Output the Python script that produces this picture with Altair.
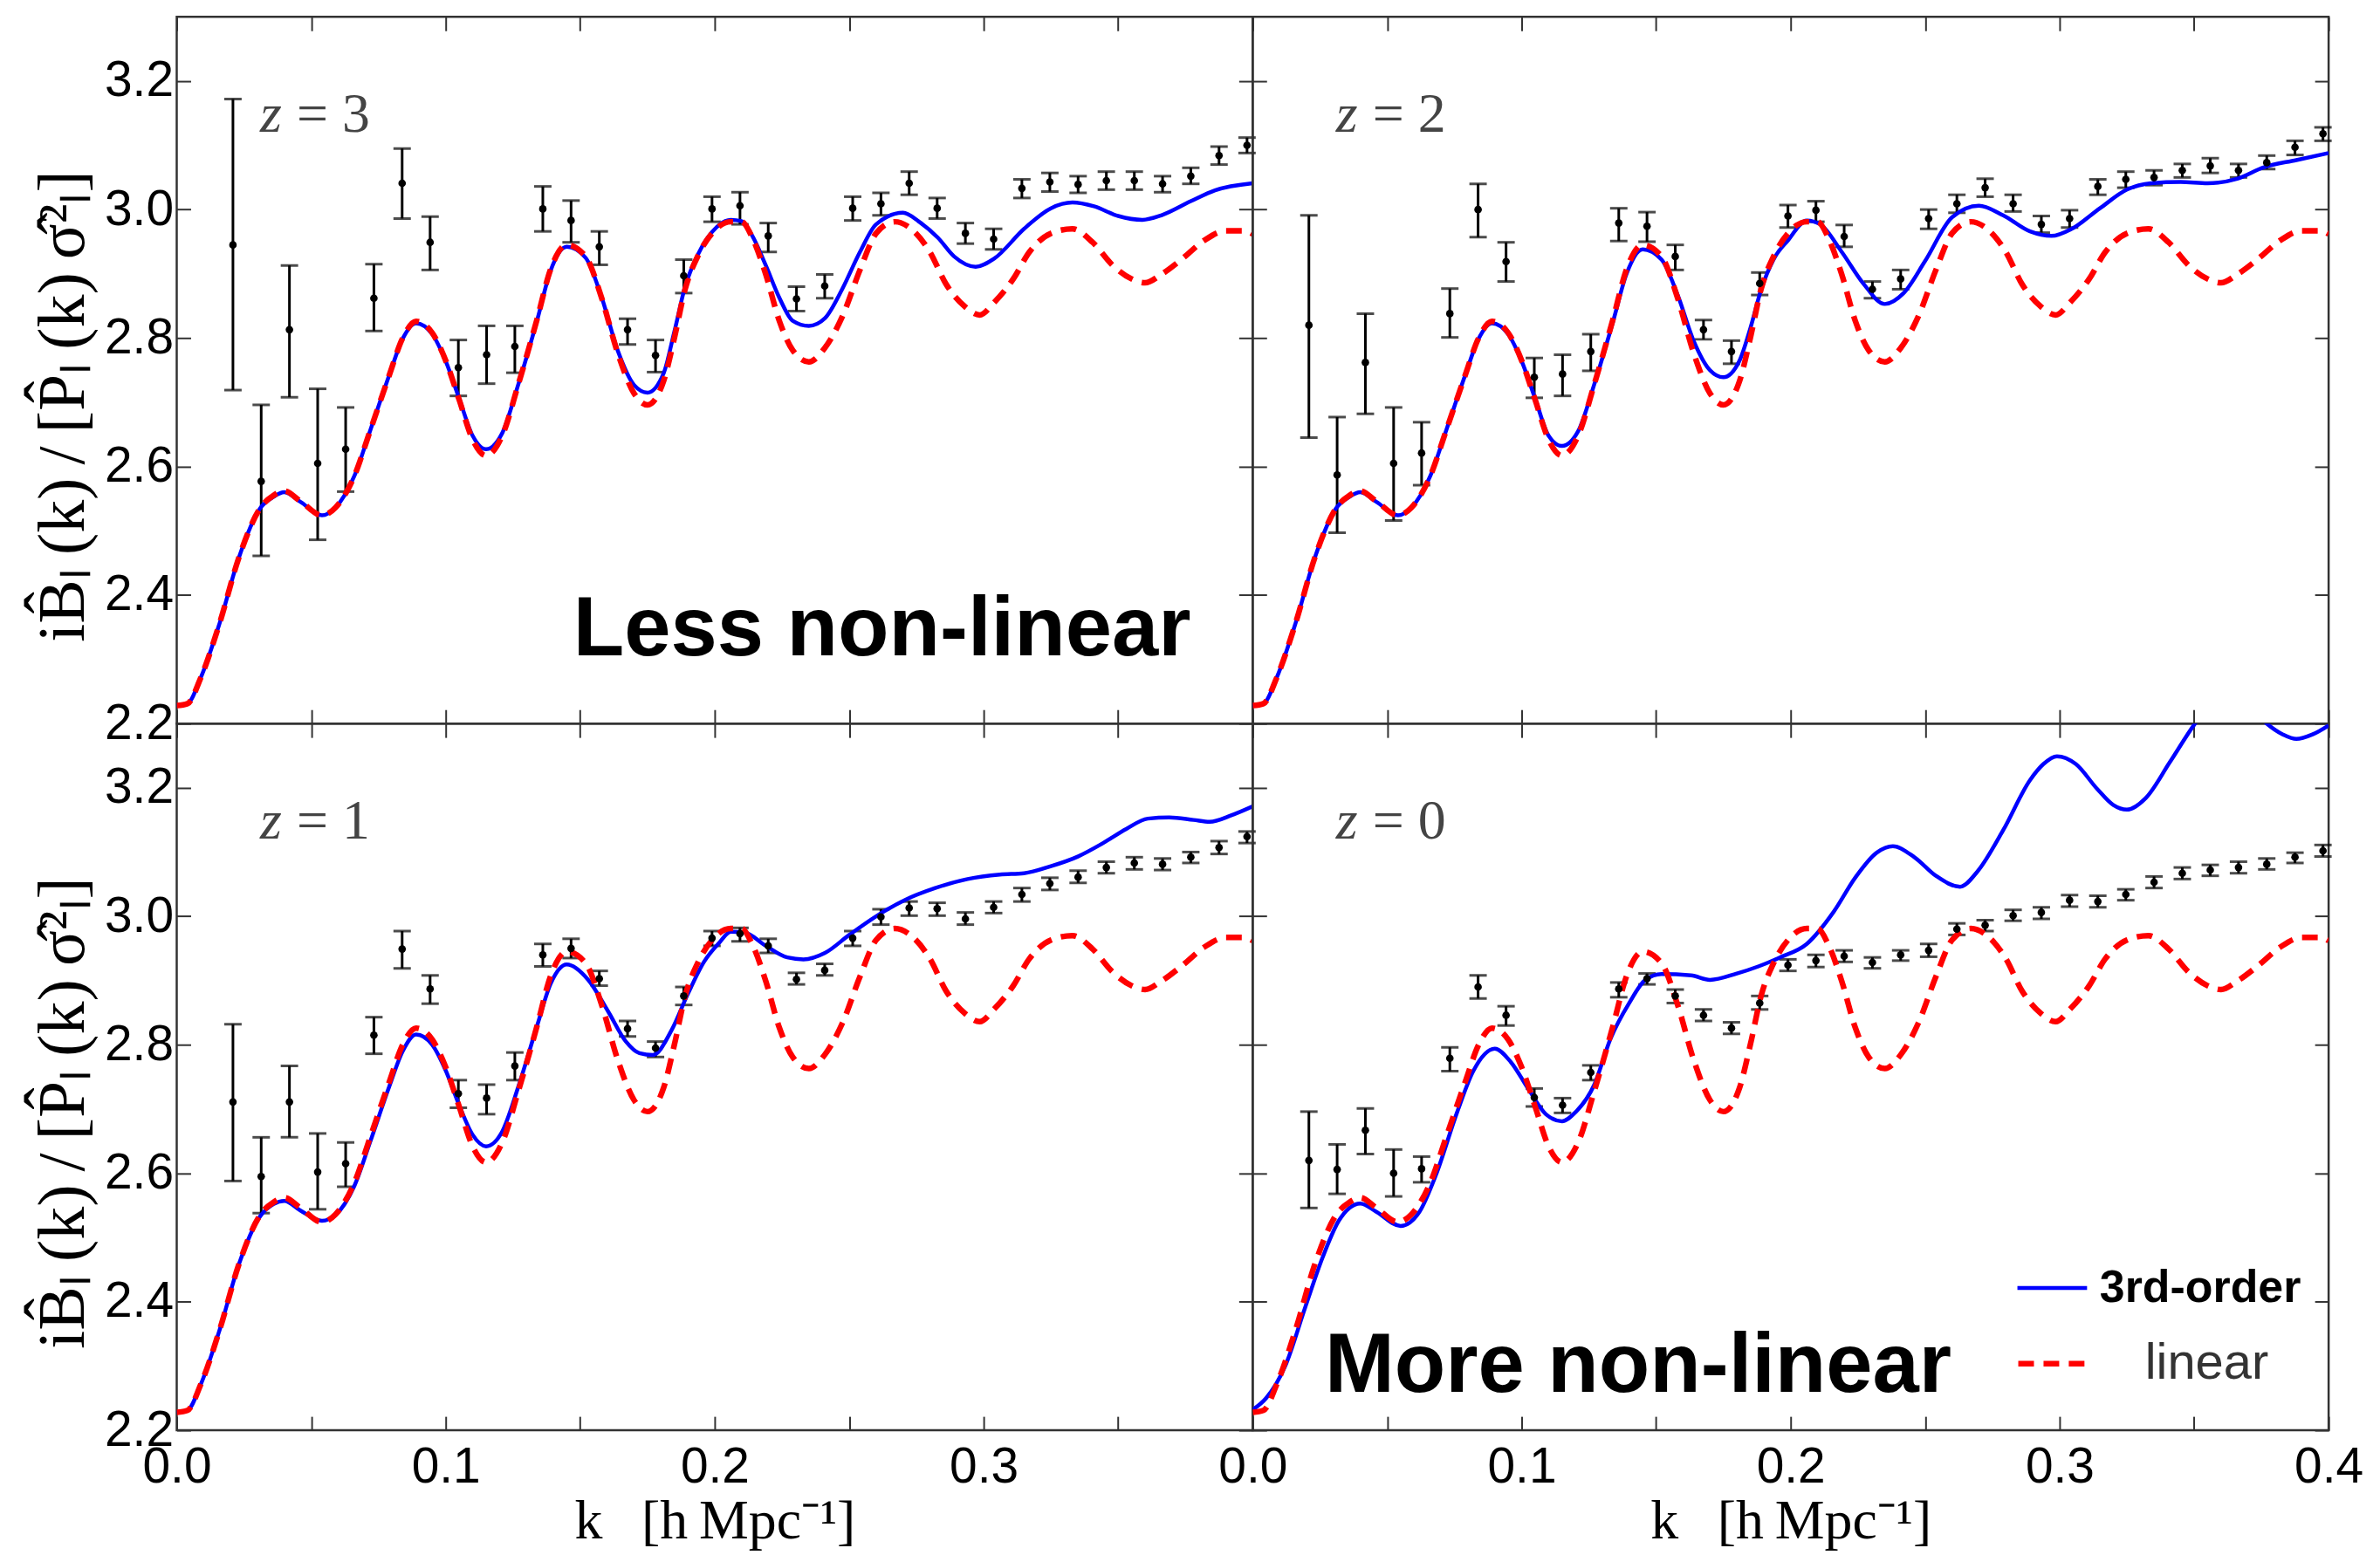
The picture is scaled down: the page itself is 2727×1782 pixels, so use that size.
import altair as alt
import pandas as pd

# ---------------- data ----------------
K_BINS = [0.0209, 0.0314, 0.0419, 0.0524, 0.0628, 0.0733, 0.0838, 0.0942, 0.1047, 0.1152,
          0.1257, 0.1361, 0.1466, 0.1571, 0.1676, 0.1780, 0.1885, 0.1990, 0.2094, 0.2199,
          0.2304, 0.2409, 0.2513, 0.2618, 0.2723, 0.2827, 0.2932, 0.3037, 0.3142, 0.3246,
          0.3351, 0.3456, 0.3560, 0.3665, 0.3770, 0.3875, 0.3979]

Z3_VAL = [2.945, 2.577, 2.813, 2.605, 2.627, 2.862, 3.041, 2.949, 2.754, 2.774, 2.787, 3.001, 2.983,
          2.942, 2.813, 2.773, 2.897, 3.001, 3.006, 2.959, 2.861, 2.881, 3.002, 3.009, 3.041, 3.002,
          2.963, 2.954, 3.033, 3.043, 3.039, 3.045, 3.045, 3.040, 3.052, 3.084, 3.100]
Z3_LO = [2.719, 2.461, 2.708, 2.486, 2.561, 2.811, 2.986, 2.906, 2.710, 2.729, 2.746, 2.966, 2.949,
         2.914, 2.790, 2.747, 2.870, 2.981, 2.977, 2.934, 2.842, 2.862, 2.983, 2.991, 3.023, 2.986,
         2.947, 2.938, 3.018, 3.028, 3.026, 3.031, 3.031, 3.027, 3.040, 3.070, 3.088]
Z3_HI = [3.172, 2.696, 2.913, 2.721, 2.692, 2.915, 3.095, 2.989, 2.797, 2.819, 2.819, 3.036, 3.014,
         2.966, 2.830, 2.797, 2.922, 3.020, 3.027, 2.979, 2.880, 2.899, 3.020, 3.026, 3.059, 3.018,
         2.979, 2.970, 3.047, 3.057, 3.052, 3.059, 3.059, 3.052, 3.065, 3.098, 3.112]

Z2_VAL = [2.820, 2.587, 2.762, 2.605, 2.621, 2.838, 3.000, 2.919, 2.739, 2.744, 2.779, 2.979, 2.974,
          2.927, 2.813, 2.779, 2.885, 2.990, 2.999, 2.958, 2.876, 2.892, 2.986, 3.009, 3.034, 3.009,
          2.977, 2.986, 3.036, 3.047, 3.050, 3.061, 3.068, 3.061, 3.073, 3.097, 3.118]
Z2_LO = [2.645, 2.497, 2.682, 2.516, 2.571, 2.801, 2.957, 2.888, 2.707, 2.710, 2.749, 2.951, 2.950,
         2.906, 2.798, 2.760, 2.867, 2.972, 2.981, 2.942, 2.862, 2.876, 2.970, 2.995, 3.020, 2.997,
         2.964, 2.972, 3.023, 3.034, 3.038, 3.050, 3.057, 3.050, 3.063, 3.085, 3.107]
Z2_HI = [2.991, 2.677, 2.838, 2.692, 2.669, 2.877, 3.040, 2.949, 2.769, 2.774, 2.806, 3.002, 2.996,
         2.945, 2.828, 2.796, 2.902, 3.007, 3.013, 2.976, 2.888, 2.906, 3.000, 3.023, 3.048, 3.023,
         2.990, 2.999, 3.047, 3.059, 3.061, 3.071, 3.080, 3.071, 3.084, 3.107, 3.128]

Z1_VAL = [2.711, 2.595, 2.711, 2.602, 2.615, 2.815, 2.949, 2.887, 2.724, 2.717, 2.767, 2.940, 2.950,
          2.903, 2.825, 2.795, 2.876, 2.966, 2.973, 2.954, 2.902, 2.916, 2.966, 2.999, 3.013, 3.012,
          2.996, 3.014, 3.034, 3.051, 3.061, 3.076, 3.083, 3.081, 3.092, 3.107, 3.124]
Z1_LO = [2.588, 2.538, 2.656, 2.544, 2.579, 2.786, 2.919, 2.864, 2.702, 2.692, 2.745, 2.922, 2.935,
         2.892, 2.813, 2.781, 2.862, 2.954, 2.961, 2.943, 2.894, 2.908, 2.954, 2.987, 3.001, 3.001,
         2.987, 3.005, 3.023, 3.041, 3.052, 3.067, 3.073, 3.072, 3.083, 3.097, 3.114]
Z1_HI = [2.832, 2.656, 2.767, 2.662, 2.648, 2.843, 2.977, 2.908, 2.745, 2.738, 2.788, 2.957, 2.965,
         2.915, 2.837, 2.805, 2.890, 2.977, 2.982, 2.965, 2.912, 2.926, 2.977, 3.011, 3.023, 3.021,
         3.006, 3.023, 3.044, 3.060, 3.071, 3.085, 3.092, 3.090, 3.100, 3.117, 3.132]

Z0_VAL = [2.620, 2.606, 2.667, 2.600, 2.607, 2.779, 2.890, 2.846, 2.718, 2.706, 2.757, 2.887, 2.903,
          2.876, 2.846, 2.826, 2.865, 2.924, 2.931, 2.938, 2.928, 2.940, 2.947, 2.980, 2.986, 3.001,
          3.006, 3.025, 3.023, 3.034, 3.053, 3.067, 3.072, 3.076, 3.081, 3.092, 3.102]
Z0_LO = [2.546, 2.568, 2.630, 2.564, 2.586, 2.759, 2.872, 2.830, 2.704, 2.694, 2.745, 2.874, 2.894,
         2.865, 2.837, 2.817, 2.855, 2.915, 2.921, 2.929, 2.919, 2.931, 2.937, 2.971, 2.977, 2.993,
         2.996, 3.015, 3.014, 3.025, 3.044, 3.058, 3.063, 3.067, 3.073, 3.083, 3.093]
Z0_HI = [2.696, 2.645, 2.701, 2.637, 2.626, 2.796, 2.908, 2.860, 2.732, 2.717, 2.768, 2.897, 2.911,
         2.886, 2.855, 2.835, 2.876, 2.933, 2.940, 2.947, 2.936, 2.947, 2.957, 2.989, 2.994, 3.010,
         3.014, 3.033, 3.032, 3.042, 3.062, 3.076, 3.080, 3.085, 3.090, 3.099, 3.111]

# linear theory (same in every panel)
LIN_K = [0.000, 0.004, 0.009, 0.016, 0.023, 0.031, 0.036, 0.040, 0.046, 0.054, 0.059, 0.066, 0.072,
         0.079, 0.084, 0.089, 0.095, 0.100, 0.105, 0.110, 0.115, 0.121, 0.127, 0.134, 0.139, 0.145,
         0.152, 0.158, 0.164, 0.170, 0.175, 0.181, 0.185, 0.189, 0.194, 0.199, 0.206, 0.210, 0.214,
         0.219, 0.224, 0.229, 0.235, 0.241, 0.2475, 0.254, 0.260, 0.267, 0.273, 0.280, 0.286, 0.293,
         0.2985, 0.304, 0.311, 0.317, 0.325, 0.333, 0.3405, 0.348, 0.355, 0.360, 0.366, 0.374, 0.382,
         0.390, 0.397, 0.400]
LIN_V = [2.228, 2.231, 2.272, 2.357, 2.457, 2.535, 2.555, 2.562, 2.546, 2.524, 2.536, 2.585, 2.657,
         2.742, 2.800, 2.826, 2.808, 2.765, 2.704, 2.642, 2.617, 2.648, 2.728, 2.830, 2.907, 2.945,
         2.927, 2.862, 2.776, 2.714, 2.696, 2.733, 2.800, 2.876, 2.930, 2.963, 2.981, 2.981, 2.956,
         2.899, 2.827, 2.781, 2.763, 2.785, 2.834, 2.906, 2.963, 2.981, 2.970, 2.934, 2.884, 2.849,
         2.836, 2.856, 2.892, 2.934, 2.963, 2.970, 2.949, 2.913, 2.892, 2.886, 2.899, 2.924, 2.952,
         2.967, 2.967, 2.962]

# 3rd-order theory, one curve per redshift
Z3_TK = [0.000, 0.004, 0.009, 0.016, 0.023, 0.031, 0.036, 0.040, 0.046, 0.054, 0.059, 0.066, 0.072,
         0.079, 0.084, 0.089, 0.095, 0.100, 0.105, 0.110, 0.115, 0.121, 0.127, 0.134, 0.139, 0.145,
         0.152, 0.158, 0.164, 0.170, 0.175, 0.181, 0.185, 0.189, 0.194, 0.199, 0.206, 0.210, 0.214,
         0.219, 0.224, 0.229, 0.235, 0.241, 0.2475, 0.254, 0.260, 0.270, 0.276, 0.283, 0.289, 0.297,
         0.304, 0.315, 0.325, 0.333, 0.341, 0.350, 0.359, 0.366, 0.377, 0.386, 0.400]
Z3_TV = [2.228, 2.231, 2.272, 2.357, 2.457, 2.535, 2.553, 2.560, 2.545, 2.524, 2.536, 2.585, 2.657,
         2.742, 2.799, 2.823, 2.806, 2.764, 2.706, 2.648, 2.627, 2.652, 2.728, 2.828, 2.905, 2.942,
         2.925, 2.863, 2.780, 2.727, 2.715, 2.745, 2.810, 2.880, 2.932, 2.965, 2.984, 2.982, 2.959,
         2.913, 2.863, 2.827, 2.819, 2.831, 2.877, 2.934, 2.977, 2.995, 2.981, 2.956, 2.927, 2.911,
         2.924, 2.970, 3.002, 3.011, 3.005, 2.990, 2.984, 2.991, 3.013, 3.030, 3.041]

Z2_TK = [0.000, 0.004, 0.009, 0.016, 0.023, 0.031, 0.036, 0.040, 0.046, 0.054, 0.059, 0.066, 0.072,
         0.079, 0.084, 0.089, 0.095, 0.100, 0.105, 0.110, 0.115, 0.121, 0.127, 0.134, 0.139, 0.145,
         0.152, 0.158, 0.164, 0.170, 0.175, 0.181, 0.185, 0.189, 0.194, 0.199, 0.206, 0.211, 0.219,
         0.227, 0.235, 0.242, 0.250, 0.260, 0.270, 0.279, 0.289, 0.297, 0.3045, 0.315, 0.325, 0.334,
         0.345, 0.355, 0.366, 0.376, 0.388, 0.400]
Z2_TV = [2.228, 2.231, 2.272, 2.357, 2.457, 2.535, 2.553, 2.560, 2.545, 2.524, 2.536, 2.585, 2.657,
         2.742, 2.799, 2.823, 2.806, 2.764, 2.706, 2.648, 2.632, 2.655, 2.728, 2.826, 2.900, 2.938,
         2.922, 2.867, 2.795, 2.750, 2.739, 2.765, 2.815, 2.875, 2.925, 2.952, 2.983, 2.977, 2.934,
         2.885, 2.853, 2.870, 2.920, 2.988, 3.006, 2.991, 2.966, 2.959, 2.970, 3.002, 3.031, 3.041,
         3.043, 3.041, 3.048, 3.066, 3.077, 3.088]

Z1_TK = [0.000, 0.004, 0.009, 0.016, 0.023, 0.031, 0.036, 0.040, 0.046, 0.054, 0.059, 0.066, 0.072,
         0.079, 0.084, 0.089, 0.095, 0.100, 0.105, 0.110, 0.115, 0.121, 0.127, 0.134, 0.139, 0.145,
         0.153, 0.1605, 0.167, 0.172, 0.177, 0.184, 0.190, 0.196, 0.2015, 0.206, 0.211, 0.219, 0.227,
         0.233, 0.241, 0.250, 0.260, 0.271, 0.282, 0.294, 0.306, 0.315, 0.325, 0.335, 0.344, 0.353,
         0.361, 0.369, 0.378, 0.384, 0.392, 0.400]
Z1_TV = [2.228, 2.231, 2.272, 2.357, 2.457, 2.533, 2.552, 2.557, 2.542, 2.526, 2.535, 2.580, 2.650,
         2.735, 2.790, 2.816, 2.800, 2.760, 2.706, 2.660, 2.642, 2.665, 2.735, 2.830, 2.895, 2.925,
         2.901, 2.851, 2.805, 2.787, 2.784, 2.823, 2.879, 2.929, 2.958, 2.976, 2.975, 2.954, 2.936,
         2.933, 2.943, 2.971, 3.000, 3.026, 3.044, 3.058, 3.065, 3.067, 3.078, 3.093, 3.113, 3.136,
         3.152, 3.154, 3.150, 3.147, 3.157, 3.171]

Z0_TK = [0.000, 0.005, 0.012, 0.0195, 0.026, 0.032, 0.040, 0.046, 0.055, 0.062, 0.068, 0.076, 0.082,
         0.090, 0.096, 0.1025, 0.109, 0.115, 0.120, 0.127, 0.133, 0.140, 0.146, 0.152, 0.163, 0.170,
         0.180, 0.188, 0.196, 0.206, 0.216, 0.224, 0.232, 0.238, 0.246, 0.254, 0.263, 0.2695, 0.279,
         0.289, 0.294, 0.299, 0.306, 0.314, 0.320, 0.325, 0.332, 0.341, 0.350, 0.356, 0.363, 0.370,
         0.377, 0.383, 0.388, 0.394, 0.400]
Z0_TV = [2.232, 2.250, 2.299, 2.391, 2.469, 2.526, 2.553, 2.540, 2.518, 2.540, 2.596, 2.695, 2.759,
         2.794, 2.773, 2.731, 2.692, 2.681, 2.695, 2.738, 2.809, 2.865, 2.901, 2.910, 2.908, 2.901,
         2.911, 2.922, 2.936, 2.957, 3.007, 3.060, 3.099, 3.109, 3.092, 3.063, 3.046, 3.070, 3.134,
         3.212, 3.237, 3.249, 3.237, 3.198, 3.173, 3.166, 3.184, 3.240, 3.298, 3.330, 3.350, 3.330,
         3.300, 3.283, 3.276, 3.283, 3.297]

PANEL_Z = ["3", "2", "1", "0"]
NOTE_TEXT = ["Less non-linear", "More non-linear"]
MODEL_NAMES = ["3rd-order", "linear"]

X_TICKS = [0.0, 0.05, 0.1, 0.15, 0.2, 0.25, 0.3, 0.35, 0.4]
Y_TICKS = [2.2, 2.4, 2.6, 2.8, 3.0, 3.2]

# ---------------- styling ----------------
W, H = 1236, 812
TICK = 16
SANS = "Liberation Sans"
SERIF = "Liberation Serif"
Y_TITLE = ("iB\u0302\u2097\u2009(k)\u2009/\u2009[P\u0302\u2097\u2009(k)\u2009\u03c3\u0302\u00b2\u2097]")
X_TITLE = "k\u2002\u2009[h\u2009Mpc\u207b\u00b9]"

XS = alt.Scale(domain=[0.0, 0.4], nice=False, zero=False)
YS = alt.Scale(domain=[2.2, 3.3], nice=False, zero=False)

LBL_ALL = "abs(datum.value*10 - round(datum.value*10)) < 0.001 ? format(datum.value, '.1f') : ''"
LBL_NO_LAST = ("abs(datum.value*10 - round(datum.value*10)) < 0.001 && datum.value < 0.39 "
               "? format(datum.value, '.1f') : ''")


def common_axis(**kw):
    base = dict(offset=-TICK, tickSize=TICK, tickWidth=2, tickColor="#333333", domain=False,
                grid=False, labelFlush=False, labelOverlap=False, labelFont=SANS,
                labelFontSize=57, labelColor="black", titleFont=SERIF, titleFontSize=64,
                titleFontWeight="normal", titleColor="black")
    base.update(kw)
    return alt.Axis(**base)


def panel(idx, val, lo, hi, tk, tv, show_x, show_y, last_x_label, note=None, legend=False):
    pts = pd.DataFrame({"k": K_BINS, "v": val, "lo": lo, "hi": hi})
    caps = pd.concat([pd.DataFrame({"k": K_BINS, "c": lo}), pd.DataFrame({"k": K_BINS, "c": hi})])
    lin = pd.DataFrame({"k": LIN_K, "v": LIN_V, "model": MODEL_NAMES[1]})
    third = pd.DataFrame({"k": tk, "v": tv, "model": MODEL_NAMES[0]})

    if show_x:
        xax = common_axis(orient="bottom", values=X_TICKS, labelExpr=LBL_ALL if last_x_label else LBL_NO_LAST,
                          labelPadding=15, title=X_TITLE, titlePadding=2)
    else:
        xax = common_axis(orient="bottom", values=X_TICKS, labels=False, title=None)
    if show_y:
        yax = common_axis(orient="left", values=Y_TICKS, format=".1f", labelPadding=4,
                          title=Y_TITLE, titlePadding=8, titleFontSize=76, titleY=447)
    else:
        yax = common_axis(orient="left", values=Y_TICKS, labels=False, title=None)

    xn = lambda f: alt.X(f, scale=XS, axis=None)
    yn = lambda f: alt.Y(f, scale=YS, axis=None)

    bars = alt.Chart(pts).mark_rule(color="black", strokeWidth=3).encode(
        x=alt.X("k:Q", scale=XS, axis=xax), y=alt.Y("lo:Q", scale=YS, axis=yax), y2="hi:Q")
    cap = alt.Chart(caps).mark_tick(color="black", thickness=3, size=20, orient="horizontal").encode(
        x=xn("k:Q"), y=yn("c:Q"))
    dots = alt.Chart(pts).mark_circle(color="black", size=75, opacity=1).encode(x=xn("k:Q"), y=yn("v:Q"))

    if legend:
        blue_enc = dict(color=alt.Color("model:N", scale=alt.Scale(domain=[MODEL_NAMES[0]], range=["#0000ff"]),
                                        legend=alt.Legend(title=None, orient="none", legendX=2112, legendY=1418,
                                                          labelFont=SANS, labelFontSize=52, labelFontWeight="bold",
                                                          labelColor="black", labelLimit=600, symbolType="stroke",
                                                          symbolSize=6400, symbolStrokeWidth=4.5, labelOffset=12,
                                                          padding=0)))
        red_enc = dict(strokeDash=alt.StrokeDash("model:N", scale=alt.Scale(domain=[MODEL_NAMES[1]], range=[[18, 11]]),
                                                 legend=alt.Legend(title=None, orient="none", legendX=2112, legendY=1504,
                                                                   labelFont=SANS, labelFontSize=58,
                                                                   labelFontWeight="normal", labelColor="#333333",
                                                                   labelLimit=600, symbolType="stroke",
                                                                   symbolSize=6400, symbolStrokeWidth=6.5,
                                                                   symbolStrokeColor="#ff0000", labelOffset=62,
                                                                   padding=0)))
        blue = alt.Chart(third).mark_line(strokeWidth=4.5, interpolate="monotone", clip=True).encode(
            x=xn("k:Q"), y=yn("v:Q"), **blue_enc)
        red = alt.Chart(lin).mark_line(color="#ff0000", strokeWidth=6.5, interpolate="monotone", clip=True).encode(
            x=xn("k:Q"), y=yn("v:Q"), **red_enc)
    else:
        blue = alt.Chart(third).mark_line(color="#0000ff", strokeWidth=4.5, interpolate="monotone", clip=True).encode(
            x=xn("k:Q"), y=yn("v:Q"))
        red = alt.Chart(lin).mark_line(color="#ff0000", strokeWidth=6.5, strokeDash=[18, 11], interpolate="monotone",
                                       clip=True).encode(x=xn("k:Q"), y=yn("v:Q"))

    lab_df = pd.DataFrame({"k": [0.031], "v": [3.121], "z": ["z"], "rest": ["=\u2005" + PANEL_Z[idx]]})
    zsym = alt.Chart(lab_df).mark_text(align="left", baseline="alphabetic", font=SERIF, fontSize=64,
                                       fontStyle="italic", color="#444444").encode(
        x=xn("k:Q"), y=yn("v:Q"), text="z:N")
    zrest = alt.Chart(lab_df).mark_text(align="left", baseline="alphabetic", font=SERIF, fontSize=64,
                                        dx=42, color="#444444").encode(
        x=xn("k:Q"), y=yn("v:Q"), text="rest:N")

    layers = [bars, cap, blue, red, dots, zsym, zrest]
    if note is not None:
        nk, nv, nalign, ntext = note
        layers.append(alt.Chart(pd.DataFrame({"k": [nk], "v": [nv], "t": [ntext]})).mark_text(
            align=nalign, baseline="alphabetic", font=SANS, fontSize=96, fontWeight="bold", color="black").encode(
            x=xn("k:Q"), y=yn("v:Q"), text="t:N"))

    frame = alt.Chart(pts).mark_point(opacity=0).encode(
        x=alt.X("k:Q", scale=XS, axis=common_axis(orient="top", values=X_TICKS, labels=False, title=None)),
        y=alt.Y("v:Q", scale=YS, axis=common_axis(orient="right", values=Y_TICKS, labels=False, title=None)))
    layers.append(frame)

    return alt.layer(*layers).resolve_axis(x="independent", y="independent").properties(width=W, height=H)


p3 = panel(0, Z3_VAL, Z3_LO, Z3_HI, Z3_TK, Z3_TV, False, True, False, note=(0.377, 2.306, "right", NOTE_TEXT[0]))
p2 = panel(1, Z2_VAL, Z2_LO, Z2_HI, Z2_TK, Z2_TV, False, False, True)
p1 = panel(2, Z1_VAL, Z1_LO, Z1_HI, Z1_TK, Z1_TV, True, True, False)
p0 = panel(3, Z0_VAL, Z0_LO, Z0_HI, Z0_TK, Z0_TV, True, False, True,
           note=(0.0268, 2.260, "left", NOTE_TEXT[1]), legend=True)

chart = alt.concat(p3, p2, p1, p0, columns=2, spacing=0, bounds="flush").properties(
    padding={"left": 25, "top": 6, "right": 10, "bottom": 0},
    background="white",
).configure_view(stroke="#333333", strokeWidth=2.5)

chart.save("out.html", embed_options={"renderer": "svg", "actions": False})
